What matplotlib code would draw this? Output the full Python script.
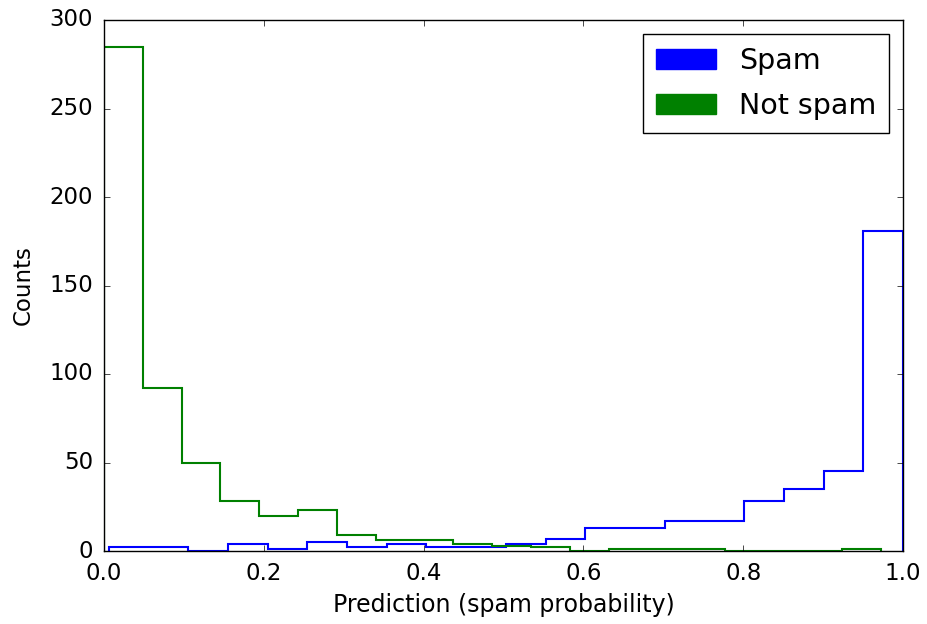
import numpy as np
import matplotlib
matplotlib.use("Agg")
import matplotlib.pyplot as plt
from matplotlib.patches import Patch

plt.style.use("classic")

# Bin ranges (min/max of each class's predictions) and counts per bin (20 bins)
spam_range = (0.006, 1.0)
spam_counts = [2, 2, 0, 4, 1, 5, 2, 4, 2, 2, 4, 7, 13, 13, 17, 17, 28, 35, 45, 181]
notspam_range = (0.0, 0.972)
notspam_counts = [285, 92, 50, 28, 20, 23, 9, 6, 6, 4, 3, 2, 0, 1, 1, 1, 0, 0, 0, 1]
labels = ["Spam", "Not spam"]
colors = ["b", "g"]

fig = plt.figure(figsize=(9.28, 6.24), dpi=100)
ax = fig.add_axes([104 / 928, (624 - 551) / 624, 799 / 928, 531 / 624])

for rng, counts, c in [(spam_range, spam_counts, colors[0]),
                       (notspam_range, notspam_counts, colors[1])]:
    edges = np.linspace(rng[0], rng[1], len(counts) + 1)
    centers = (edges[:-1] + edges[1:]) / 2
    ax.hist(centers, bins=edges, weights=counts, histtype="step",
            color=c, linewidth=1.5)

ax.set_xlim(0, 1.0)
ax.set_ylim(0, 300)
ax.set_xticks(np.arange(0, 1.01, 0.2))
ax.set_yticks(np.arange(0, 301, 50))
ax.tick_params(labelsize=16.5, pad=8)
ax.set_xlabel("Prediction (spam probability)", fontsize=17, labelpad=6)
ax.set_ylabel("Counts", fontsize=16.5, labelpad=10)

handles = [Patch(facecolor=colors[0], edgecolor=colors[0]),
           Patch(facecolor=colors[1], edgecolor=colors[1])]
ax.legend(handles, labels, loc="upper right", fontsize=20.5,
          labelspacing=0.6, handlelength=2.1, borderpad=0.45)

fig.savefig("out.png", dpi=100)
